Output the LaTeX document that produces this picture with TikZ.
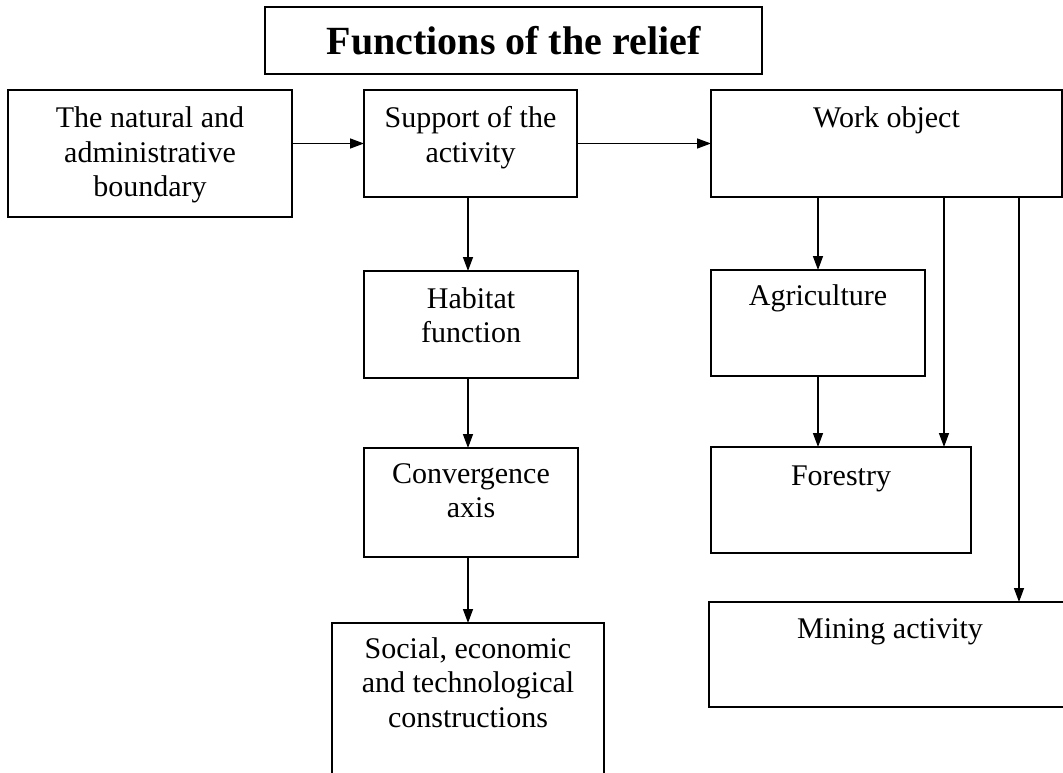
\documentclass[tikz,border=0pt]{standalone}
\usepackage{fontspec}
\setmainfont{Liberation Serif}
\usetikzlibrary{arrows.meta}
\newcommand\mylines[1]{\begin{tabular}[t]{@{}c@{}}#1\end{tabular}}
\begin{document}
\begin{tikzpicture}[x=1pt,y=-1pt,
  box/.style={draw, line width=1.6pt, inner sep=0pt, outer sep=0pt, rectangle},
  lbl/.style={anchor=base, inner sep=0pt, outer sep=0pt, font=\fontsize{30}{34.5}\selectfont},
  arr/.style={line width=1.4pt, -{Triangle[length=14pt,width=10pt]}}]
\useasboundingbox (0,0) rectangle (1063,773);
\clip (0,0) rectangle (1063,773);
% boxes
\node[box, minimum width=497pt, minimum height=67pt, font=\fontsize{40}{48}\selectfont\bfseries] (title) at (513.5,40.5) {Functions of the relief};
\node[box, minimum width=284pt, minimum height=127pt] (nat) at (150,153.5) {};
\node[box, minimum width=213pt, minimum height=107pt] (sup) at (470.5,143.5) {};
\node[box, minimum width=351pt, minimum height=107pt] (work) at (886.5,143.5) {};
\node[box, minimum width=214pt, minimum height=107pt] (hab) at (471,324.5) {};
\node[box, minimum width=214pt, minimum height=109pt] (conv) at (471,502.5) {};
\node[box, minimum width=272pt, minimum height=177pt] (soc) at (468,711.5) {};
\node[box, minimum width=214pt, minimum height=106pt] (agri) at (818,323) {};
\node[box, minimum width=260pt, minimum height=106pt] (fore) at (841,500) {};
\node[box, minimum width=362pt, minimum height=105pt] (mine) at (890,654.5) {};
% labels
\node[lbl] (natt) at ([yshift=-38pt]nat.north) {\mylines{The natural and\\administrative\\boundary}};
\node[lbl] (supt) at ([yshift=-38pt]sup.north) {\mylines{Support of the\\activity}};
\node[lbl] (workt) at ([yshift=-38pt]work.north) {Work object};
\node[lbl] (habt) at ([yshift=-37pt]hab.north) {\mylines{Habitat\\function}};
\node[lbl] (convt) at ([yshift=-35pt]conv.north) {\mylines{Convergence\\axis}};
\node[lbl] (soct) at ([yshift=-35pt]soc.north) {\mylines{Social, economic\\and technological\\constructions}};
\node[lbl] (agrit) at ([yshift=-35pt]agri.north) {Agriculture};
\node[lbl] (foret) at ([yshift=-38pt]fore.north) {Forestry};
\node[lbl] (minet) at ([yshift=-36pt]mine.north) {Mining activity};
% connector columns
\coordinate (c1) at (468,0);
\coordinate (c2) at (944,0);
\coordinate (c3) at (1019,0);
% connectors
\draw[arr] (nat.east |- sup.west) -- (sup.west);
\draw[arr] (sup.east) -- (work.west);
\draw[arr] (sup.south -| c1) -- (hab.north -| c1);
\draw[arr] (hab.south -| c1) -- (conv.north -| c1);
\draw[arr] (conv.south -| c1) -- (soc.north -| c1);
\draw[arr] (work.south -| agri.north) -- (agri.north);
\draw[arr] (agri.south) -- (agri.south |- fore.north);
\draw[arr] (work.south -| c2) -- (fore.north -| c2);
\draw[arr] (work.south -| c3) -- (mine.north -| c3);
\end{tikzpicture}
\end{document}
